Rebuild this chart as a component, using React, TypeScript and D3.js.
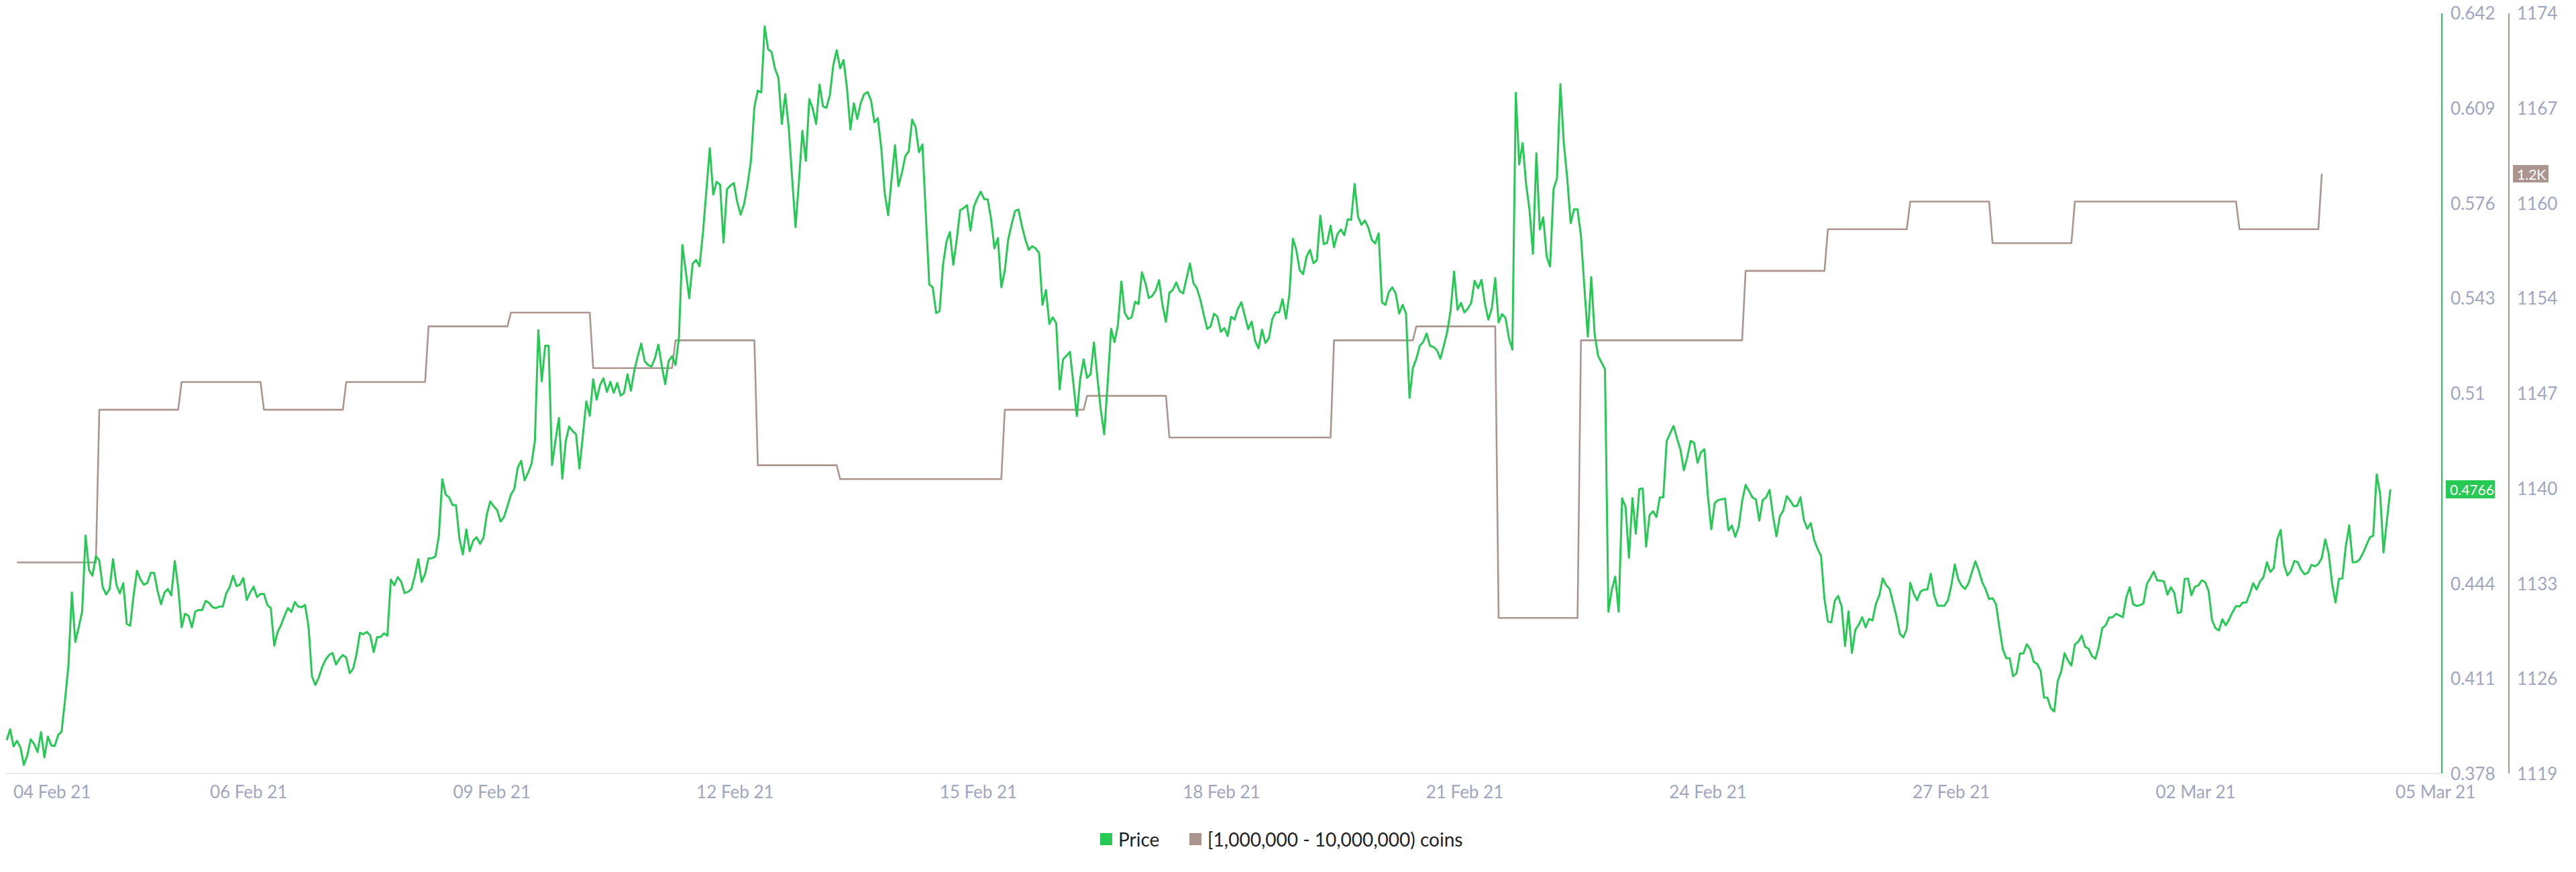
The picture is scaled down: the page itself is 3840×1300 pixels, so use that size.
import React from "react";
import * as d3 from "d3";

// Hourly price (USD), consecutive hours starting at hour 0
const priceSeg1 = [
  0.3895, 0.3933, 0.3874, 0.3893, 0.3870, 0.3810, 0.3842, 0.3898, 0.3882, 0.3854,
  0.3923, 0.3835, 0.3908, 0.3877, 0.3875, 0.3913, 0.3925, 0.4034, 0.4155, 0.4408,
  0.4236, 0.4287, 0.4342, 0.4605, 0.4486, 0.4466, 0.4534, 0.4519, 0.4426, 0.4401,
  0.4420, 0.4524, 0.4433, 0.4405, 0.4440, 0.4299, 0.4292, 0.4398, 0.4483, 0.4453,
  0.4435, 0.4441, 0.4476, 0.4476, 0.4413, 0.4367, 0.4408, 0.4420, 0.4398, 0.4517,
  0.4426, 0.4287, 0.4334, 0.4327, 0.4287, 0.4342, 0.4347, 0.4347, 0.4379, 0.4372,
  0.4357, 0.4354, 0.4359, 0.4359, 0.4405, 0.4426, 0.4466, 0.4430, 0.4435, 0.4458,
  0.4382, 0.4408, 0.4428, 0.4392, 0.4403, 0.4403, 0.4364, 0.4354, 0.4223, 0.4271,
  0.4295, 0.4327, 0.4354, 0.4340, 0.4375, 0.4359, 0.4357, 0.4365, 0.4289, 0.4117,
  0.4087, 0.4113, 0.4150, 0.4175, 0.4191, 0.4198, 0.4158, 0.4177, 0.4191, 0.4182,
  0.4128, 0.4143, 0.4194, 0.4268, 0.4263, 0.4271, 0.4259, 0.4201, 0.4253, 0.4253,
  0.4266, 0.4258, 0.4453, 0.4433, 0.4461, 0.4446, 0.4406, 0.4410, 0.4420,
];
const priceSeg2 = [
  0.4466, 0.4524, 0.4444, 0.4473, 0.4527, 0.4527, 0.4533, 0.4604, 0.4801, 0.4747,
  0.4738, 0.4711, 0.4711, 0.4594, 0.4540, 0.4627, 0.4551, 0.4587, 0.4600, 0.4577,
  0.4597, 0.4680, 0.4724, 0.4707, 0.4694, 0.4654, 0.4670, 0.4707, 0.4747, 0.4767,
  0.4841, 0.4865, 0.4797, 0.4823, 0.4854, 0.4934, 0.5318, 0.5141, 0.5264, 0.5264,
  0.4850, 0.4934, 0.5014, 0.4803, 0.4934, 0.4984, 0.4968, 0.4957, 0.4838, 0.4954,
  0.5071, 0.5021, 0.5148, 0.5077, 0.5128, 0.5151, 0.5104, 0.5139, 0.5101, 0.5135,
  0.5091, 0.5101, 0.5165, 0.5108, 0.5179, 0.5228, 0.5272, 0.5211, 0.5197, 0.5192,
  0.5221, 0.5268, 0.5195, 0.5131, 0.5211, 0.5228, 0.5197, 0.5291, 0.5614, 0.5522,
  0.5429, 0.5549, 0.5562, 0.5540, 0.5656, 0.5803, 0.5950, 0.5789, 0.5833, 0.5823,
  0.5622, 0.5807, 0.5820, 0.5829, 0.5763, 0.5719, 0.5756, 0.5823, 0.5906, 0.6093,
  0.6150, 0.6143, 0.6373, 0.6293, 0.6284, 0.6226, 0.6194, 0.6034, 0.6137, 0.6023,
  0.5847, 0.5676, 0.5836, 0.6010, 0.5906, 0.6120, 0.6088, 0.6034,
];
const priceSeg3 = [
  0.6171, 0.6095, 0.6090, 0.6134, 0.6238, 0.6290, 0.6227, 0.6256, 0.6158, 0.6015,
  0.6106, 0.6051, 0.6106, 0.6137, 0.6145, 0.6116, 0.6040, 0.6054, 0.5950, 0.5794,
  0.5718, 0.5841, 0.5960, 0.5818, 0.5864, 0.5922, 0.5939, 0.6049, 0.6023, 0.5936,
  0.5963, 0.5716, 0.5477, 0.5467, 0.5378, 0.5384, 0.5545, 0.5625, 0.5659, 0.5545,
  0.5633, 0.5735, 0.5742, 0.5752, 0.5664, 0.5747, 0.5776, 0.5799, 0.5773, 0.5773,
  0.5706, 0.5602, 0.5638, 0.5467, 0.5524, 0.5633, 0.5685, 0.5732, 0.5737, 0.5680,
  0.5633, 0.5597, 0.5610, 0.5602, 0.5586, 0.5406, 0.5458, 0.5340, 0.5363, 0.5342,
  0.5113, 0.5217, 0.5230, 0.5243, 0.5134, 0.5020, 0.5150, 0.5217, 0.5153, 0.5165,
  0.5276, 0.5155, 0.5041, 0.4957, 0.5134, 0.5323, 0.5277, 0.5337, 0.5487, 0.5378,
  0.5357, 0.5363, 0.5417, 0.5409, 0.5519, 0.5482, 0.5430, 0.5437, 0.5456, 0.5492,
  0.5404, 0.5347, 0.5448, 0.5458, 0.5484, 0.5454, 0.5446, 0.5498, 0.5550, 0.5482,
  0.5464, 0.5425, 0.5373, 0.5323, 0.5331, 0.5375, 0.5365, 0.5313, 0.5326, 0.5298,
  0.5365,
];
const priceSeg4 = [
  0.5355, 0.5393, 0.5415, 0.5367, 0.5322, 0.5348, 0.5281, 0.5255, 0.5320, 0.5274,
  0.5290, 0.5357, 0.5380, 0.5380, 0.5426, 0.5358, 0.5445, 0.5636, 0.5597, 0.5526,
  0.5513, 0.5574, 0.5597, 0.5551, 0.5561, 0.5716, 0.5617, 0.5622, 0.5681, 0.5606,
  0.5652, 0.5668, 0.5648, 0.5703, 0.5701, 0.5826, 0.5712, 0.5684, 0.5699, 0.5674,
  0.5632, 0.5619, 0.5654, 0.5415, 0.5406, 0.5451, 0.5467, 0.5445, 0.5376, 0.5406,
  0.5376, 0.5083, 0.5187, 0.5219, 0.5264, 0.5277, 0.5307, 0.5264, 0.5260, 0.5249,
  0.5219, 0.5264, 0.5312, 0.5387, 0.5522, 0.5389, 0.5413, 0.5380, 0.5393, 0.5413,
  0.5490, 0.5464, 0.5493, 0.5410, 0.5355, 0.5393, 0.5499, 0.5345, 0.5374, 0.5361,
  0.5290, 0.5251, 0.6142, 0.5893, 0.5968, 0.5826, 0.5736, 0.5583, 0.5932, 0.5668,
  0.5710, 0.5574, 0.5539, 0.5807, 0.5845, 0.6172, 0.5968, 0.5845, 0.5690, 0.5738,
  0.5738, 0.5645, 0.5467, 0.5296, 0.5503, 0.5303, 0.5229, 0.5206, 0.5183, 0.4341,
  0.4418, 0.4463, 0.4341, 0.4735, 0.4705, 0.4528, 0.4735, 0.4612, 0.4767, 0.4769,
  0.4567, 0.4676,
];
const priceSeg5 = [
  0.4690, 0.4670, 0.4738, 0.4738, 0.4934, 0.4960, 0.4986, 0.4943, 0.4904, 0.4832,
  0.4878, 0.4934, 0.4927, 0.4858, 0.4895, 0.4905, 0.4744, 0.4627, 0.4718, 0.4729,
  0.4731, 0.4734, 0.4623, 0.4640, 0.4601, 0.4637, 0.4725, 0.4781, 0.4760, 0.4738,
  0.4731, 0.4657, 0.4729, 0.4738, 0.4764, 0.4673, 0.4603, 0.4673, 0.4692, 0.4742,
  0.4727, 0.4708, 0.4708, 0.4738, 0.4659, 0.4629, 0.4649, 0.4590, 0.4559, 0.4535,
  0.4385, 0.4307, 0.4304, 0.4379, 0.4396, 0.4359, 0.4222, 0.4342, 0.4198, 0.4278,
  0.4296, 0.4322, 0.4287, 0.4316, 0.4311, 0.4368, 0.4398, 0.4457, 0.4433, 0.4420,
  0.4372, 0.4324, 0.4264, 0.4252, 0.4281, 0.4441, 0.4405, 0.4381, 0.4411, 0.4418,
  0.4418, 0.4473, 0.4398, 0.4362, 0.4362, 0.4362, 0.4381, 0.4433, 0.4505, 0.4454,
  0.4431, 0.4420, 0.4440, 0.4479, 0.4516, 0.4483, 0.4444, 0.4418, 0.4385, 0.4388,
  0.4368, 0.4287, 0.4211, 0.4180, 0.4180, 0.4117, 0.4128, 0.4196, 0.4196, 0.4228,
  0.4211, 0.4167, 0.4160, 0.4137, 0.4043, 0.4043, 0.4006,
];
const priceSeg6 = [
  0.3995, 0.4100, 0.4133, 0.4197, 0.4172, 0.4154, 0.4227, 0.4237, 0.4258, 0.4219,
  0.4213, 0.4187, 0.4178, 0.4221, 0.4284, 0.4294, 0.4321, 0.4322, 0.4334, 0.4328,
  0.4322, 0.4391, 0.4426, 0.4367, 0.4361, 0.4364, 0.4370, 0.4437, 0.4458, 0.4480,
  0.4450, 0.4449, 0.4446, 0.4400, 0.4426, 0.4406, 0.4337, 0.4340, 0.4455, 0.4456,
  0.4398, 0.4428, 0.4432, 0.4450, 0.4444, 0.4413, 0.4312, 0.4284, 0.4276, 0.4315,
  0.4294, 0.4315, 0.4340, 0.4361, 0.4359, 0.4373, 0.4373, 0.4404, 0.4440, 0.4418,
  0.4446, 0.4461, 0.4513, 0.4479, 0.4493, 0.4592, 0.4625, 0.4504, 0.4467, 0.4483,
  0.4517, 0.4513, 0.4486, 0.4471, 0.4477, 0.4504, 0.4499, 0.4507, 0.4528, 0.4592,
  0.4544, 0.4440, 0.4373, 0.4455, 0.4456, 0.4568, 0.4641, 0.4513, 0.4513, 0.4522,
  0.4544, 0.4572, 0.4599, 0.4605, 0.4818, 0.4751, 0.4547, 0.4659, 0.4766,
];

// Daily number of addresses holding [1,000,000 - 10,000,000) coins
const holderLevels = [
  1135, 1146, 1148, 1146, 1148, 1152, 1153, 1149, 1151, 1142,
  1141, 1141, 1146, 1147, 1144, 1144, 1151, 1152, 1131, 1151,
  1151, 1156, 1159, 1161, 1158, 1161, 1161, 1159, 1163,
];
const holderFirstHour = 3;
const holderFirstChangeHour = 27;
const holderLastHour = 675;

const dateLabels = [
  "04 Feb 21", "06 Feb 21", "09 Feb 21", "12 Feb 21", "15 Feb 21", "18 Feb 21",
  "21 Feb 21", "24 Feb 21", "27 Feb 21", "02 Mar 21", "05 Mar 21",
];
const priceTicks = [0.378, 0.411, 0.444, 0.477, 0.51, 0.543, 0.576, 0.609, 0.642];
const holderDomain = [1119.8, 1174.6];
const holderTickCount = 9;
const hourDomain = [0, 710];

const GREEN = "#26c953";
const BROWN = "#ab958e";
const TICK = "#a0a5c0";
const FONT = "Lato, 'Open Sans', sans-serif";

export default function App() {
  const W = 3840;
  const H = 1300;
  const left = 10;
  const right = 3640;
  const top = 19;
  const bottom = 1153;

  const price = [priceSeg1, priceSeg2, priceSeg3, priceSeg4, priceSeg5, priceSeg6].flat();
  const pricePts: [number, number][] = price.map((v, i) => [i, v]);

  const holderPts: [number, number][] = [];
  holderLevels.forEach((v, i) => {
    const start = i === 0 ? holderFirstHour : holderFirstChangeHour + 24 * (i - 1);
    const end = Math.min(holderFirstChangeHour + 24 * i - 1, holderLastHour);
    holderPts.push([start, v]);
    if (end > start) holderPts.push([end, v]);
  });

  const x = d3.scaleLinear().domain(hourDomain).range([left, right]);
  const yP = d3.scaleLinear().domain([priceTicks[0], priceTicks[priceTicks.length - 1]]).range([bottom, top]);
  const yH = d3.scaleLinear().domain(holderDomain).range([bottom, top]);

  const priceLine = d3.line<[number, number]>().x((d) => x(d[0])).y((d) => yP(d[1]));
  const holderLine = d3.line<[number, number]>().x((d) => x(d[0])).y((d) => yH(d[1]));

  const step = (holderDomain[1] - holderDomain[0]) / (holderTickCount - 1);
  const holderTicks = d3.range(holderTickCount).map((k) => holderDomain[0] + k * step);

  const labelScale = d3.scalePoint<string>().domain(dateLabels).range([-49.6, 3576]);

  const lastPrice = price[price.length - 1];
  const lastHolder = holderLevels[holderLevels.length - 1];
  const badgeY = yP(lastPrice);

  return (
    <svg
      width={W}
      height={H}
      style={{ position: "absolute", left: 0, top: 0, background: "#ffffff" }}
      fontFamily={FONT}
    >
      <rect x={0} y={0} width={W} height={H} fill="#ffffff" />
      {/* baseline */}
      <line x1={left} x2={right} y1={bottom} y2={bottom} stroke="#e8e8ee" strokeWidth={2} />

      {/* series */}
      <path d={holderLine(holderPts) || ""} fill="none" stroke={BROWN} strokeWidth={2.6} strokeLinejoin="round" />
      <path d={priceLine(pricePts) || ""} fill="none" stroke={GREEN} strokeWidth={3} strokeLinejoin="round" />

      {/* right axes */}
      <line x1={right} x2={right} y1={top + 1} y2={bottom} stroke={GREEN} strokeWidth={2} />
      <line x1={3740} x2={3740} y1={top + 1} y2={bottom} stroke={BROWN} strokeWidth={2} />

      {priceTicks
        .filter((t) => Math.abs(yP(t) - badgeY) > 22)
        .map((t) => (
          <text key={"p" + t} x={3653} y={yP(t)} dominantBaseline="central" fontSize={26} fill={TICK}>
            {String(+t.toFixed(3))}
          </text>
        ))}
      {holderTicks.map((t) => (
        <text key={"h" + t} x={3752} y={yH(t)} dominantBaseline="central" fontSize={26} fill={TICK}>
          {Math.floor(t + 1e-9)}
        </text>
      ))}

      {/* last value badges */}
      <rect x={3646} y={badgeY - 13.5} width={73} height={27} fill={GREEN} />
      <text x={3652} y={badgeY} dominantBaseline="central" fontSize={21} fill="#ffffff">
        {lastPrice}
      </text>
      <rect x={3746} y={yH(lastHolder) - 13} width={53} height={26} fill={BROWN} />
      <text x={3752} y={yH(lastHolder)} dominantBaseline="central" fontSize={21} fill="#ffffff">
        {d3.format(".2s")(lastHolder).replace("k", "K")}
      </text>

      {/* x axis labels */}
      {dateLabels.map((d) => (
        <text
          key={d}
          x={Math.min(3571, Math.max(20, labelScale(d) || 0))}
          y={1180}
          dominantBaseline="central"
          fontSize={26}
          fill={TICK}
        >
          {d}
        </text>
      ))}

      {/* legend */}
      <g>
        <rect x={1640} y={1242} width={18} height={18} fill={GREEN} />
        <text x={1667} y={1251} dominantBaseline="central" fontSize={28} fill="#222">
          Price
        </text>
        <rect x={1773} y={1242} width={18} height={18} fill={BROWN} />
        <text x={1800} y={1251} dominantBaseline="central" fontSize={28} fill="#222">
          [1,000,000 - 10,000,000) coins
        </text>
      </g>
    </svg>
  );
}
